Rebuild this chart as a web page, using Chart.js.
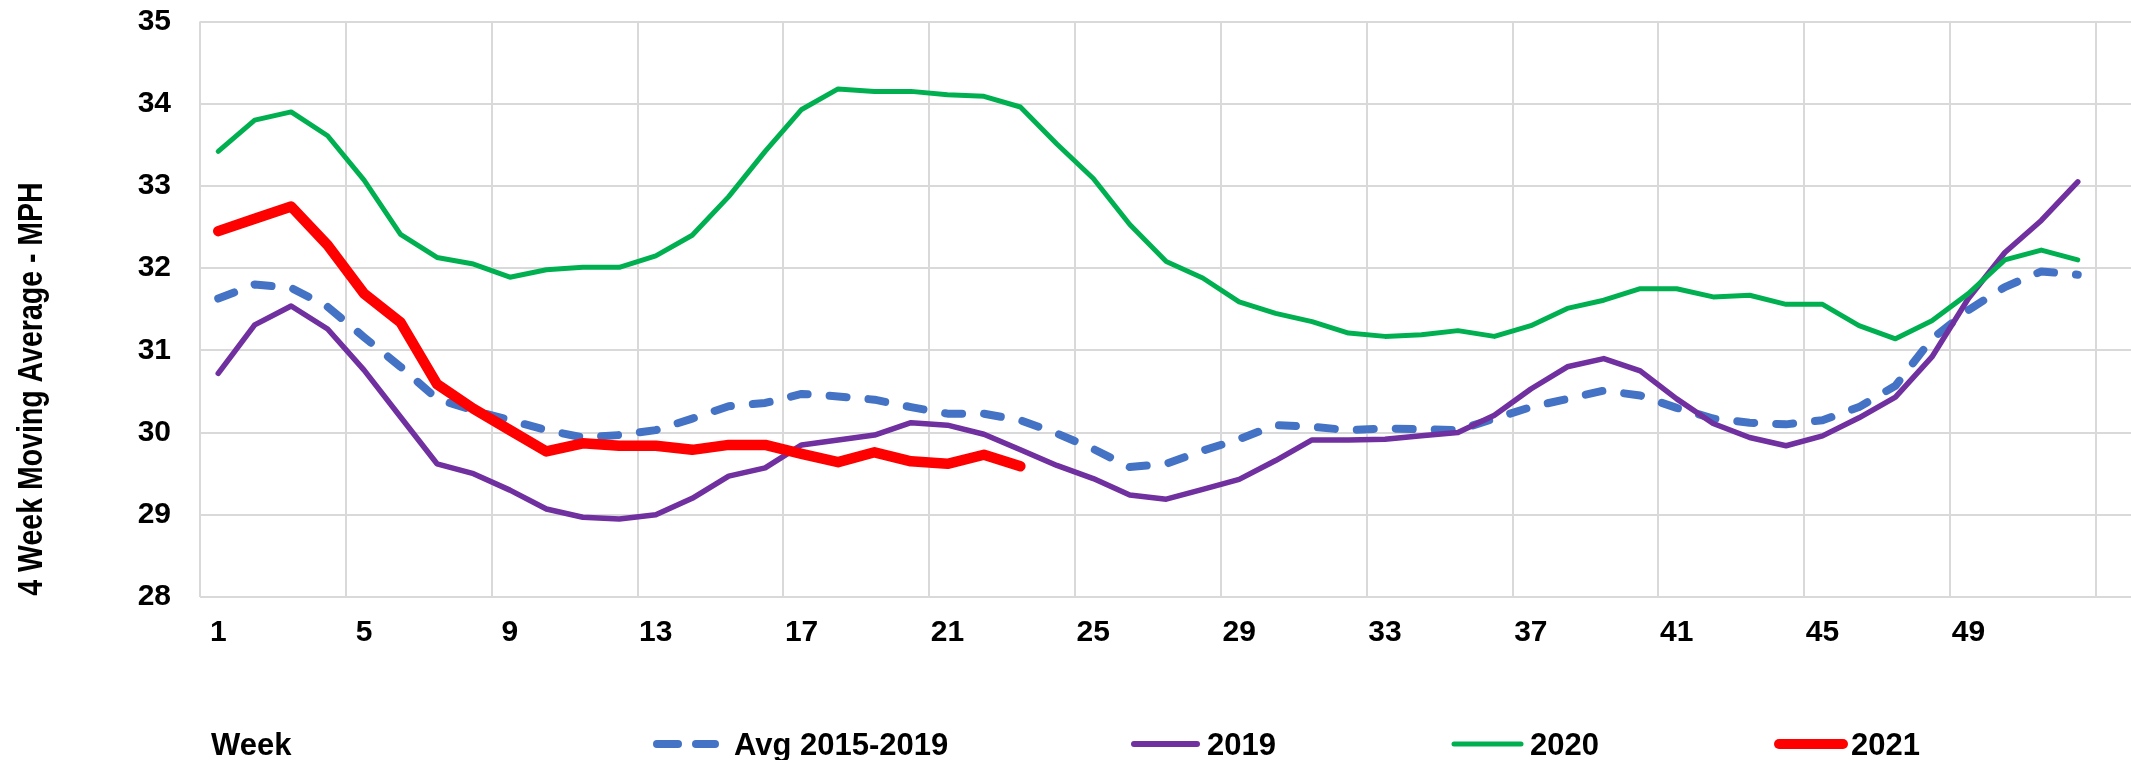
<!DOCTYPE html>
<html>
<head>
<meta charset="utf-8">
<script src="https://cdn.jsdelivr.net/npm/chart.js@4/dist/chart.umd.min.js"></script>
<style>
  html, body { margin: 0; padding: 0; background: #fff; }
  #wrap { width: 2131px; height: 760px; }
</style>
</head>
<body>
<div id="wrap"><canvas id="c" width="2131" height="760"></canvas></div>
<script>
const weeks = Array.from({length: 52}, (_, i) => i + 1);
const xTickLabels = ['1','5','9','13','17','21','25','29','33','37','41','45','49'];
const yTickValues = [28, 29, 30, 31, 32, 33, 34, 35];

const avg2015_2019 = [31.63, 31.80, 31.76, 31.53, 31.16, 30.80, 30.41, 30.27, 30.15, 30.03,
  29.94, 29.97, 30.03, 30.17, 30.32, 30.36, 30.47, 30.44, 30.40, 30.31,
  30.23, 30.23, 30.15, 29.99, 29.80, 29.58, 29.62, 29.78, 29.92, 30.09,
  30.07, 30.03, 30.05, 30.04, 30.03, 30.17, 30.31, 30.41, 30.51, 30.45,
  30.30, 30.17, 30.12, 30.10, 30.15, 30.31, 30.57, 31.14, 31.49, 31.77,
  31.96, 31.92];
const y2019 = [30.72, 31.31, 31.54, 31.26, 30.76, 30.19, 29.62, 29.50, 29.30, 29.07,
  28.97, 28.95, 29.00, 29.20, 29.47, 29.57, 29.85, 29.91, 29.97, 30.12,
  30.09, 29.98, 29.79, 29.60, 29.44, 29.24, 29.19, 29.31, 29.43, 29.66,
  29.91, 29.91, 29.92, 29.96, 30.00, 30.21, 30.53, 30.80, 30.90, 30.75,
  30.41, 30.11, 29.94, 29.84, 29.96, 30.18, 30.43, 30.92, 31.63, 32.19,
  32.58, 33.05];
const y2020 = [33.42, 33.80, 33.90, 33.61, 33.07, 32.41, 32.13, 32.05, 31.89, 31.98,
  32.01, 32.01, 32.15, 32.40, 32.87, 33.42, 33.93, 34.18, 34.15, 34.15,
  34.11, 34.09, 33.96, 33.51, 33.09, 32.53, 32.08, 31.88, 31.59, 31.45,
  31.35, 31.21, 31.17, 31.19, 31.24, 31.17, 31.30, 31.51, 31.61, 31.75,
  31.75, 31.65, 31.67, 31.56, 31.56, 31.30, 31.14, 31.36, 31.69, 32.10,
  32.22, 32.10];
const y2021 = [32.45, 32.60, 32.75, 32.28, 31.69, 31.34, 30.59, 30.29, 30.03, 29.77,
  29.87, 29.84, 29.84, 29.79, 29.85, 29.85, 29.74, 29.64, 29.76, 29.65,
  29.62, 29.73, 29.59];

const seriesNames = ['Avg 2015-2019', '2019', '2020', '2021'];
const axisTitleY = '4 Week Moving Average - MPH';
const axisTitleX = 'Week';

const COLORS = { avg: '#4472C4', y2019: '#7030A0', y2020: '#00B050', y2021: '#FF0000' };
const FONT = '"Liberation Sans", Arial, Helvetica, sans-serif';

function pts(vals) { return vals.map((v, i) => ({ x: weeks[i], y: v })); }

const overlay = {
  id: 'overlay',
  afterDraw(chart) {
    const ctx = chart.ctx;
    ctx.save();
    // Y axis title (rotated)
    ctx.save();
    ctx.translate(41.7, 389);
    ctx.rotate(-Math.PI / 2);
    ctx.scale(1, 1.25);
    ctx.fillStyle = '#000';
    ctx.font = 'bold 28.5px ' + FONT;
    ctx.textAlign = 'center';
    ctx.textBaseline = 'alphabetic';
    ctx.fillText(axisTitleY, 0, 0);
    ctx.restore();

    // Legend row
    const base = 755, my = 744;
    ctx.fillStyle = '#000';
    ctx.font = 'bold 31px ' + FONT;
    ctx.textAlign = 'left';
    ctx.textBaseline = 'alphabetic';
    ctx.fillText(axisTitleX, 211, base);

    ctx.lineCap = 'round';
    function seg(x1, x2, w, c) {
      ctx.beginPath(); ctx.strokeStyle = c; ctx.lineWidth = w;
      ctx.moveTo(x1, my); ctx.lineTo(x2, my); ctx.stroke();
    }
    seg(657, 678, 8, COLORS.avg); seg(696, 715, 8, COLORS.avg);
    ctx.fillText(seriesNames[0], 734, base);
    seg(1134, 1197, 6, COLORS.y2019);
    ctx.fillText(seriesNames[1], 1207, base);
    seg(1454, 1521, 5, COLORS.y2020);
    ctx.fillText(seriesNames[2], 1530, base);
    seg(1779, 1843, 10, COLORS.y2021);
    ctx.fillText(seriesNames[3], 1851, base);
    ctx.restore();
  }
};

const tickFont = { family: FONT, size: 30, weight: 'bold' };

new Chart(document.getElementById('c'), {
  type: 'line',
  data: {
    datasets: [
      { label: seriesNames[0], data: pts(avg2015_2019), borderColor: COLORS.avg, borderWidth: 8,
        borderDash: [17, 22], borderCapStyle: 'round', borderJoinStyle: 'round', order: 4 },
      { label: seriesNames[1], data: pts(y2019), borderColor: COLORS.y2019, borderWidth: 5.5,
        borderCapStyle: 'round', borderJoinStyle: 'round', order: 3 },
      { label: seriesNames[2], data: pts(y2020), borderColor: COLORS.y2020, borderWidth: 5,
        borderCapStyle: 'round', borderJoinStyle: 'round', order: 2 },
      { label: seriesNames[3], data: pts(y2021), borderColor: COLORS.y2021, borderWidth: 10.5,
        borderCapStyle: 'round', borderJoinStyle: 'round', order: 1 }
    ]
  },
  options: {
    responsive: false,
    animation: false,
    devicePixelRatio: 1,
    layout: { padding: { top: 21.5, left: 0, right: 0, bottom: 0 } },
    plugins: { legend: { display: false }, tooltip: { enabled: false }, title: { display: false } },
    elements: { point: { radius: 0 }, line: { tension: 0, fill: false } },
    scales: {
      x: {
        type: 'linear', min: 0.5, max: 53.46,
        afterBuildTicks: (s) => { s.ticks = xTickLabels.map((_, i) => ({ value: 0.5 + 4 * i })).concat([{ value: 52.5 }]); },
        afterFit: (s) => { s.height = 163; s.paddingLeft = 0; s.paddingRight = 0; },
        grid: { color: '#d9d9d9', lineWidth: 2, drawTicks: false },
        border: { display: false },
        ticks: {
          autoSkip: false, maxRotation: 0, minRotation: 0, padding: 18, labelOffset: 18.23,
          color: '#000', font: tickFont,
          callback: (v, i) => (i < xTickLabels.length ? xTickLabels[i] : '')
        }
      },
      y: {
        min: yTickValues[0], max: yTickValues[yTickValues.length - 1],
        afterFit: (s) => { s.width = 200; s.paddingTop = 0; s.paddingBottom = 0; },
        afterBuildTicks: (s) => { s.ticks = yTickValues.map(v => ({ value: v })); },
        grid: { color: '#d9d9d9', lineWidth: 2, drawTicks: false },
        border: { display: false },
        ticks: { padding: 29, color: '#000', font: tickFont, callback: (v) => String(v) }
      }
    }
  },
  plugins: [overlay]
});
</script>
</body>
</html>
